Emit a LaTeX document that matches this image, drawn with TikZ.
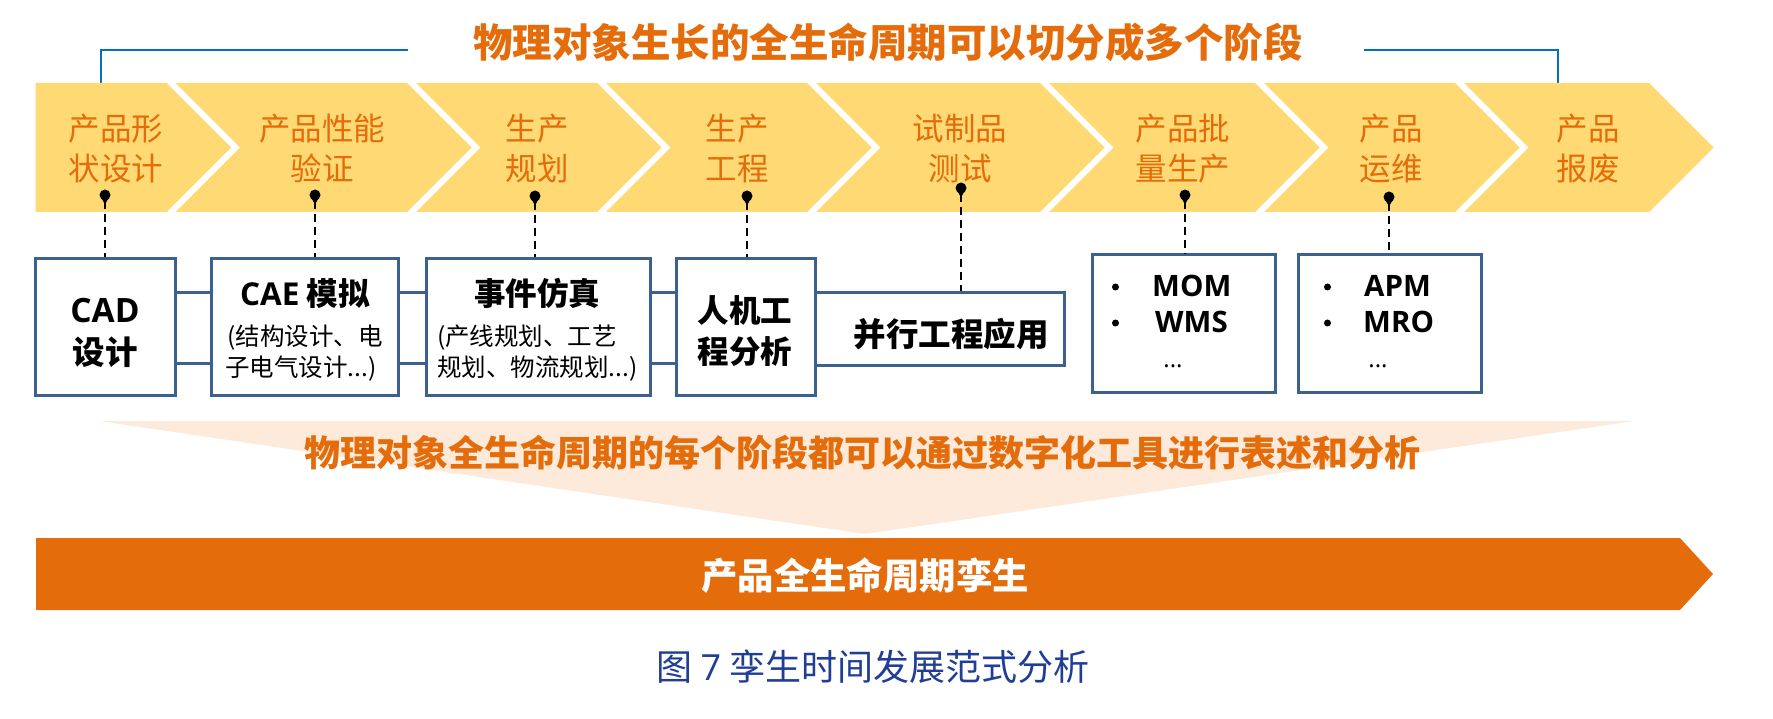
\documentclass[tikz,border=0pt]{standalone}
\usepackage{fontspec}
\setmainfont{Noto Sans CJK SC}
\newfontfamily\lat{Open Sans}
\definecolor{chevy}{RGB}{255,217,115}
\definecolor{orng}{RGB}{228,108,10}
\definecolor{peach}{RGB}{253,234,218}
\definecolor{boxblue}{RGB}{60,96,143}
\definecolor{lineblue}{RGB}{0,112,192}
\definecolor{capblue}{RGB}{32,62,150}
\begin{document}
\begin{tikzpicture}[x=1pt,y=-1pt,
  chevfill/.style={fill=chevy},
  chevlabel/.style={text=orng, font=\fontsize{31.5}{38}\selectfont, anchor=base, inner sep=0},
  boxframe/.style={draw=boxblue, line width=3pt, fill=white, inner sep=0},
  boxlink/.style={draw=boxblue, line width=3pt},
  boxhead/.style={font=\fontsize{31.5}{38}\selectfont\bfseries, anchor=base, inner sep=0},
  boxsub/.style={font=\fontsize{24.5}{30}\selectfont, anchor=base, inner sep=0},
  listitem/.style={font=\fontsize{29.5}{36}\selectfont\bfseries\lat, anchor=base west, inner sep=0},
  listdot/.style={circle, fill=black, inner sep=0, minimum size=7pt},
  pindot/.style={circle, fill=black, inner sep=0, minimum size=11pt},
  guideline/.style={black, line width=1.5pt, dash pattern=on 8pt off 5pt},
  bracket/.style={draw=lineblue, line width=2pt},
]
\useasboundingbox (0,0) rectangle (1773,719);
\fill[white] (0,0) rectangle (1773,719);

% title and bracket
\node[text=orng, font=\fontsize{39.5}{46}\selectfont\bfseries, anchor=base, inner sep=0] (title) at (888,58) {物理对象生长的全生命周期可以切分成多个阶段};
\coordinate (bl1) at (101,83);
\coordinate (bl2) at (101,50);
\coordinate (bl3) at (408,50);
\coordinate (br1) at (1364,50);
\coordinate (br2) at (1558,50);
\coordinate (br3) at (1558,83);
\draw[bracket] (bl1) -- (bl2) -- (bl3);
\draw[bracket] (br1) -- (br2) -- (br3);

% chevrons
\fill[chevfill] (35.5,83) -- (166.7,83) -- (231.2,147.5) -- (166.7,212) -- (35.5,212) -- cycle;
\foreach \l/\r in {175.7/407, 416/597, 606/807, 816/1040, 1049/1255, 1264/1455, 1464/1649}{
  \fill[chevfill] (\l,83) -- (\r,83) -- (\r+64.5,147.5) -- (\r,212) -- (\l,212) -- (\l+64.5,147.5) -- cycle;
}
\foreach \x/\a/\b [count=\i] in {116/产品形/状设计, 322/产品性能/验证, 537/生产/规划, 737/生产/工程, 960/试制品/测试, 1183/产品批/量生产, 1391/产品/运维, 1588/产品/报废}{
  \node[chevlabel] (ca\i) at (\x,141) {\a};
  \node[chevlabel] (cb\i) at (\x,181) {\b};
}

% pins
\node[pindot] (p1) at (105,195) {};
\node[pindot] (p2) at (315,195) {};
\node[pindot] (p3) at (535,196) {};
\node[pindot] (p4) at (747,196) {};
\node[pindot] (p5) at (961,188) {};
\node[pindot] (p6) at (1185,195) {};
\node[pindot] (p7) at (1389,197) {};
\foreach \i in {1,...,7}{
  \fill[black] (p\i.center) ++(-3.6,3) -- ++(3.6,6.5) -- ++(3.6,-6.5) -- cycle;
}

% boxes
\node[boxframe, minimum width=249pt, minimum height=73pt] (bx) at (939.5,329.5) {};
\node[boxframe, minimum width=140pt, minimum height=136pt] (cad) at (105,327) {};
\node[boxframe, minimum width=187pt, minimum height=136pt] (cae) at (304.5,327) {};
\node[boxframe, minimum width=224pt, minimum height=136pt] (evt) at (538,327) {};
\node[boxframe, minimum width=139pt, minimum height=136pt] (rj) at (745.5,327) {};
\node[boxframe, minimum width=183pt, minimum height=137pt] (mom) at (1184,323.5) {};
\node[boxframe, minimum width=183pt, minimum height=137pt] (apm) at (1390,323.5) {};

% guides
\draw[guideline] (p1) -- (p1 |- cad.north);
\draw[guideline] (p2) -- (p2 |- cae.north);
\draw[guideline] (p3) -- (p3 |- evt.north);
\draw[guideline] (p4) -- (p4 |- rj.north);
\draw[guideline] (p5) -- (p5 |- bx.north);
\draw[guideline] (p6) -- (p6 |- mom.north);
\draw[guideline] (p7) -- (p7 |- apm.north);

% links
\coordinate (ly1) at (0,293);
\coordinate (ly2) at (0,364);
\draw[boxlink] (cad.east |- ly1) -- (cae.west |- ly1);
\draw[boxlink] (cad.east |- ly2) -- (cae.west |- ly2);
\draw[boxlink] (cae.east |- ly1) -- (evt.west |- ly1);
\draw[boxlink] (cae.east |- ly2) -- (evt.west |- ly2);
\draw[boxlink] (evt.east |- ly1) -- (rj.west |- ly1);
\draw[boxlink] (evt.east |- ly2) -- (rj.west |- ly2);

% box texts
\node[boxhead, font=\fontsize{33.5}{38}\selectfont\bfseries] (t1a) at (105,323) {{\lat CAD}};
\node[boxhead, font=\fontsize{32.5}{38}\selectfont\bfseries] (t1b) at (105,364) {设计};
\node[boxhead] (t2a) at (305,306) {{\lat CAE} 模拟};
\node[boxsub] (t2b) at (305,346) {(结构设计、电};
\node[boxsub] (t2c) at (301,377) {子电气设计...)};
\node[boxhead] (t3a) at (537,306) {事件仿真};
\node[boxsub, anchor=base west] (t3b) at (437,346) {(产线规划、工艺};
\node[boxsub, anchor=base west] (t3c) at (437,377) {规划、物流规划...)};
\node[boxhead] (t4a) at (745,323) {人机工};
\node[boxhead] (t4b) at (745,363) {程分析};
\node[boxhead, font=\fontsize{32.5}{38}\selectfont\bfseries] (t5) at (951,347) {并行工程应用};

\node[listdot] (d1) at (1115.5,287) {};
\node[listdot] (d2) at (1115.5,323) {};
\node[listitem] (m1) at (1152,297) {MOM};
\node[listitem] (m2) at (1155,333) {WMS};
\node[font=\fontsize{24}{28}\selectfont\lat, anchor=base, inner sep=0] (m3) at (1173,367) {...};
\node[listdot] (d3) at (1327.5,287) {};
\node[listdot] (d4) at (1327.5,323) {};
\node[listitem] (a1) at (1364,297) {APM};
\node[listitem] (a2) at (1363,333) {MRO};
\node[font=\fontsize{24}{28}\selectfont\lat, anchor=base, inner sep=0] (a3) at (1378,367) {...};

% funnel and twin arrow
\fill[peach] (99.5,421) -- (1634,421) -- (865,534) -- cycle;
\node[text=orng, font=\fontsize{36}{42}\selectfont\bfseries, anchor=base, inner sep=0] (mid) at (862,466) {物理对象全生命周期的每个阶段都可以通过数字化工具进行表述和分析};
\fill[orng] (36,538) -- (1680,538) -- (1713,574) -- (1680,610) -- (36,610) -- cycle;
\node[text=white, font=\fontsize{36.4}{42}\selectfont\bfseries, anchor=base, inner sep=0] (twin) at (865,589) {产品全生命周期孪生};

% caption
\node[text=capblue, font=\fontsize{36}{42}\selectfont, anchor=base, inner sep=0] (cap) at (873,680) {图 {\lat 7} 孪生时间发展范式分析};
\end{tikzpicture}
\end{document}
